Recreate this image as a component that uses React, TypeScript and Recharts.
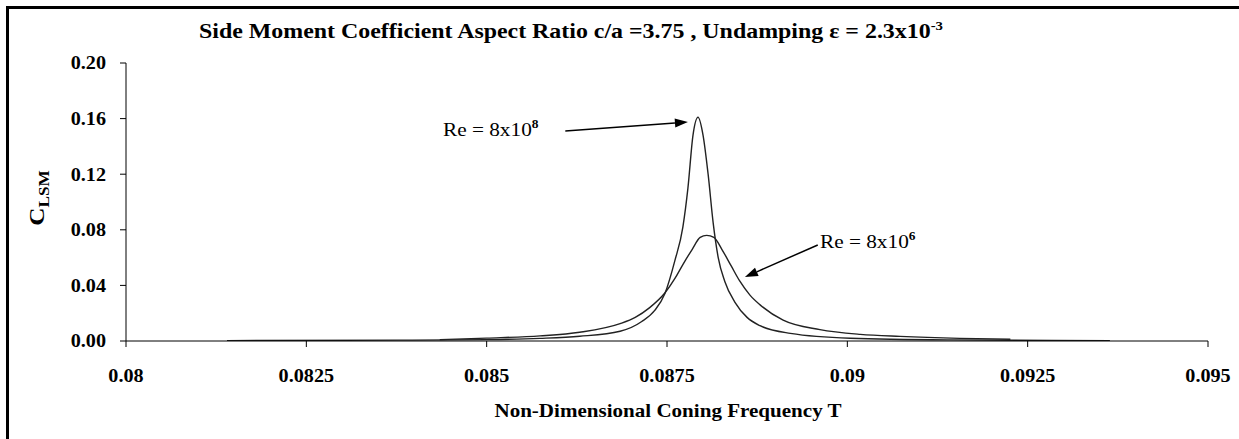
import React from "react";
import { LineChart, Line, XAxis, YAxis, ReferenceLine } from "recharts";

// Re = 8x10^8 (narrow resonance)
const T_HIGH = [0.0814, 0.0838, 0.085, 0.08574, 0.08629, 0.08685, 0.08715, 0.08733, 0.08747, 0.08761, 0.08772, 0.08779, 0.08786, 0.08793, 0.088, 0.08807, 0.08814, 0.08821, 0.0883, 0.08844, 0.08861, 0.08879, 0.08921, 0.09004, 0.09142, 0.09364];
const C_HIGH = [0.0003, 0.0006, 0.001, 0.0019, 0.0034, 0.007, 0.014, 0.022, 0.034, 0.058, 0.082, 0.11, 0.148, 0.161, 0.148, 0.12, 0.085, 0.06, 0.043, 0.028, 0.017, 0.011, 0.0055, 0.002, 0.0008, 0.0003];

// Re = 8x10^6 (broad resonance)
const T_LOW = [0.08435, 0.085, 0.08574, 0.08629, 0.08685, 0.08706, 0.08726, 0.08747, 0.08761, 0.08772, 0.08785, 0.08796, 0.08805, 0.08815, 0.08826, 0.08839, 0.08851, 0.08865, 0.08879, 0.08911, 0.08962, 0.09018, 0.09073, 0.09156, 0.09226];
const C_LOW = [0.001, 0.0021, 0.0037, 0.0063, 0.0125, 0.017, 0.024, 0.0345, 0.045, 0.055, 0.066, 0.0745, 0.076, 0.0745, 0.066, 0.054, 0.043, 0.033, 0.026, 0.015, 0.0082, 0.0048, 0.0033, 0.0019, 0.0013];

const X_TICKS = [0.08, 0.0825, 0.085, 0.0875, 0.09, 0.0925, 0.095];
const Y_TICKS = [0, 0.04, 0.08, 0.12, 0.16, 0.2];

const TITLE = "Side Moment Coefficient Aspect Ratio c/a =3.75 , Undamping \u03b5 =  2.3x10";
const TITLE_SUP = "-3";
const X_LABEL = "Non-Dimensional Coning Frequency T";
const Y_LABEL = "C";
const Y_LABEL_SUB = "LSM";
const LABEL_HIGH = "Re = 8x10";
const LABEL_HIGH_SUP = "8";
const LABEL_LOW = "Re = 8x10";
const LABEL_LOW_SUP = "6";

// annotation arrows in data coordinates
const ARROW_HIGH = [{ x: 0.08609, y: 0.1511 }, { x: 0.08779, y: 0.1576 }];
const ARROW_LOW = [{ x: 0.08959, y: 0.0691 }, { x: 0.08858, y: 0.046 }];

const highData = T_HIGH.map((t, i) => ({ t, c: C_HIGH[i] }));
const lowData = T_LOW.map((t, i) => ({ t, c: C_LOW[i] }));

const FONT = "'Liberation Serif', 'Times New Roman', serif";
const TICK_SX = 1.12;

const ArrowShape = (props: any) => {
  const { x1, y1, x2, y2 } = props;
  if ([x1, y1, x2, y2].some((v) => v === undefined || isNaN(v))) return null;
  const ang = Math.atan2(y2 - y1, x2 - x1);
  const L = 13;
  const W = 4.5;
  const bx = x2 - L * Math.cos(ang);
  const by = y2 - L * Math.sin(ang);
  const px = -Math.sin(ang) * W;
  const py = Math.cos(ang) * W;
  return (
    <g>
      <line x1={x1} y1={y1} x2={bx} y2={by} stroke="#000" strokeWidth={1.5} />
      <polygon points={`${x2},${y2} ${bx + px},${by + py} ${bx - px},${by - py}`} fill="#000" />
    </g>
  );
};

const fmtX = (v: number) => String(Number(v.toFixed(4)));
const fmtY = (v: number) => v.toFixed(2);

const XTick = (props: any) => {
  const { x, y, payload } = props;
  return (
    <g transform={`translate(${x},${y + 35}) scale(${TICK_SX},1)`}>
      <text x={0} y={0} textAnchor="middle" fontFamily={FONT} fontWeight="bold" fontSize={18} fill="#000">
        {fmtX(payload.value)}
      </text>
    </g>
  );
};

const YTick = (props: any) => {
  const { x, y, payload } = props;
  return (
    <g transform={`translate(${x},${y}) scale(${TICK_SX},1)`}>
      <text x={0} y={0} dy="0.35em" textAnchor="end" fontFamily={FONT} fontWeight="bold" fontSize={18} fill="#000">
        {fmtY(payload.value)}
      </text>
    </g>
  );
};

export default function App() {
  return (
    <div style={{ position: "absolute", left: 0, top: 0, width: 1239, height: 439, background: "#fff", overflow: "hidden" }}>
      <div style={{ position: "absolute", left: 6, top: 6, width: 1400, height: 600, borderLeft: "3px solid #000", borderTop: "3px solid #000" }} />
      <div style={{ position: "absolute", left: 0, top: 0 }}>
        <LineChart width={1239} height={439} margin={{ top: 63, right: 31, left: 66, bottom: 58 }}>
          <XAxis
            type="number"
            dataKey="t"
            domain={[0.08, 0.095]}
            ticks={X_TICKS}
            allowDataOverflow
            height={40}
            axisLine={{ stroke: "#000", strokeWidth: 1 }}
            tickLine={{ stroke: "#000" }}
            tickSize={6}
            tickMargin={0}
            tick={<XTick />}
          />
          <YAxis
            type="number"
            dataKey="c"
            domain={[0, 0.2]}
            ticks={Y_TICKS}
            allowDataOverflow
            width={60}
            axisLine={{ stroke: "#000", strokeWidth: 1 }}
            tickLine={{ stroke: "#000" }}
            tickSize={6}
            tickMargin={14}
            tick={<YTick />}
          />
          <Line data={highData} dataKey="c" type="monotone" stroke="#222" strokeWidth={1.4} dot={false} isAnimationActive={false} />
          <Line data={lowData} dataKey="c" type="monotone" stroke="#222" strokeWidth={1.4} dot={false} isAnimationActive={false} />
          <ReferenceLine segment={ARROW_HIGH} shape={ArrowShape} ifOverflow="visible" />
          <ReferenceLine segment={ARROW_LOW} shape={ArrowShape} ifOverflow="visible" />
        </LineChart>
      </div>
      <svg width={1239} height={439} style={{ position: "absolute", left: 0, top: 0, pointerEvents: "none" }}>
        <text x={199} y={38} textLength={744} lengthAdjust="spacingAndGlyphs" fontFamily={FONT} fontWeight="bold" fontSize={21} fill="#000">
          {TITLE}
          <tspan dy={-8} fontSize={13}>{TITLE_SUP}</tspan>
        </text>
        <g transform="translate(44,198) rotate(-90) scale(1.15,1)">
          <text x={0} y={0} textAnchor="middle" fontFamily={FONT} fontWeight="bold" fontSize={22} fill="#000">
            {Y_LABEL}
            <tspan dy={5} fontSize={15}>{Y_LABEL_SUB}</tspan>
          </text>
        </g>
        <g transform="translate(668,417) scale(1.17,1)">
          <text x={0} y={0} textAnchor="middle" fontFamily={FONT} fontWeight="bold" fontSize={18} fill="#000">
            {X_LABEL}
          </text>
        </g>
        <g transform="translate(443,136) scale(1.12,1)">
          <text x={0} y={0} fontFamily={FONT} fontSize={19} fill="#000">
            {LABEL_HIGH}
            <tspan dy={-8} fontSize={12} fontWeight="bold">{LABEL_HIGH_SUP}</tspan>
          </text>
        </g>
        <g transform="translate(820,248) scale(1.12,1)">
          <text x={0} y={0} fontFamily={FONT} fontSize={19} fill="#000">
            {LABEL_LOW}
            <tspan dy={-8} fontSize={12} fontWeight="bold">{LABEL_LOW_SUP}</tspan>
          </text>
        </g>
      </svg>
    </div>
  );
}
